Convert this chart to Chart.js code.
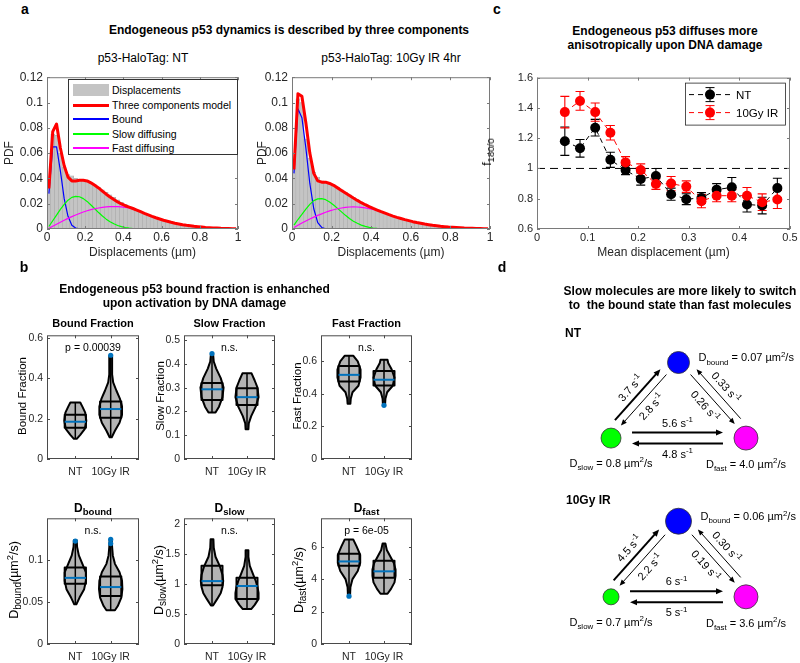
<!DOCTYPE html>
<html>
<head>
<meta charset="utf-8">
<title>Endogeneous p53 dynamics</title>
<script src="https://cdn.jsdelivr.net/npm/chart.js@4.4.1/dist/chart.umd.min.js"></script>
<style>
  body { margin: 0; background: #fff; }
  #fig { position: relative; width: 800px; height: 663px; overflow: hidden; font-family: "Liberation Sans", Arial, sans-serif; color: #000; }
  #fig canvas { position: absolute; }
  .t { position: absolute; white-space: nowrap; line-height: 1.25; }
  .t sub { font-size: 0.8em; vertical-align: -0.32em; line-height: 0; }
  .t sup { font-size: 0.75em; vertical-align: 0.5em; line-height: 0; }
</style>
</head>
<body>
<div id="fig"></div>
<script>
// ---- panel a: displacement histograms, bin centres (um) ----
const binCenters = [0.01,0.03,0.05,0.07,0.09,0.11,0.13,0.15,0.17,0.19,0.21,0.23,0.25,0.27,0.29,0.31,0.33,0.35,0.37,0.39,
  0.41,0.43,0.45,0.47,0.49,0.51,0.53,0.55,0.57,0.59,0.61,0.63,0.65,0.67,0.69,0.71,0.73,0.75,0.77,0.79,
  0.81,0.83,0.85,0.87,0.89,0.91,0.93,0.95,0.97,0.99];

// NT
const ntHist = [0.037,0.075,0.074,0.060,0.049,0.043,0.042,0.040,0.039,0.038,0.038,0.036,0.035,0.033,0.031,0.029,0.027,0.025,0.023,0.021,
  0.0195,0.018,0.0165,0.015,0.0135,0.012,0.011,0.0098,0.0088,0.0078,0.0068,0.006,0.0052,0.0045,0.0039,0.0033,0.0028,0.0024,0.002,0.0017,
  0.0014,0.0012,0.001,0.0008,0.0007,0.0005,0.0004,0.0003,0.0002,0.0002];
const ntModel = [0.032,0.077,0.083,0.064,0.050,0.041,0.038,0.038,0.0385,0.0385,0.038,0.0365,0.0345,0.0325,0.030,0.0275,0.0253,0.0233,0.0214,0.0198,
  0.0184,0.0173,0.0162,0.015,0.0137,0.0124,0.0112,0.010,0.0089,0.0079,0.0069,0.0061,0.0053,0.0046,0.004,0.0034,0.0029,0.0025,0.0021,0.0018,
  0.0015,0.0012,0.001,0.0008,0.0007,0.0005,0.0004,0.0003,0.0002,0.0002];
const ntBound = [0.028,0.065,0.065,0.046,0.024,0.010,0.003,0.0008,0.0002,0,0,0,0,0,0,0,0,0,0,0,
  0,0,0,0,0,0,0,0,0,0,0,0,0,0,0,0,0,0,0,0,0,0,0,0,0,0,0,0,0,0];
const ntSlow = [0.002,0.0065,0.011,0.0155,0.0195,0.0228,0.025,0.0258,0.0255,0.024,0.0218,0.019,0.016,0.013,0.0103,0.0078,0.0058,0.0041,0.0028,0.0019,
  0.0012,0.0007,0.0004,0.0002,0.0001,0,0,0,0,0,0,0,0,0,0,0,0,0,0,0,0,0,0,0,0,0,0,0,0,0];
const ntFast = [0.0006,0.0022,0.0038,0.0054,0.0069,0.0084,0.0098,0.0111,0.0123,0.0134,0.0144,0.0153,0.016,0.0166,0.0171,0.0175,0.0177,0.0178,0.0177,0.0175,
  0.0171,0.0166,0.0158,0.0148,0.0136,0.0124,0.0112,0.010,0.0089,0.0079,0.0069,0.0061,0.0053,0.0046,0.004,0.0034,0.0029,0.0025,0.0021,0.0018,
  0.0015,0.0012,0.001,0.0008,0.0007,0.0005,0.0004,0.0003,0.0002,0.0002];

// 10Gy IR 4hr
const irHist = [0.054,0.103,0.100,0.071,0.056,0.045,0.041,0.038,0.037,0.036,0.035,0.033,0.031,0.029,0.027,0.025,0.023,0.021,0.0195,0.018,
  0.0165,0.015,0.0137,0.0125,0.0113,0.0102,0.0092,0.0083,0.0074,0.0066,0.0058,0.0051,0.0045,0.0039,0.0034,0.0029,0.0025,0.0021,0.0018,0.0015,
  0.0013,0.0011,0.0009,0.0007,0.0006,0.0005,0.0004,0.0003,0.0002,0.0002];
const irModel = [0.047,0.107,0.105,0.084,0.060,0.044,0.038,0.037,0.037,0.036,0.0345,0.0325,0.0305,0.0285,0.0265,0.0245,0.0226,0.0208,0.0192,0.0177,
  0.0163,0.015,0.0137,0.0125,0.0113,0.0102,0.0092,0.0083,0.0074,0.0066,0.0058,0.0051,0.0045,0.0039,0.0034,0.0029,0.0025,0.0021,0.0018,0.0015,
  0.0013,0.0011,0.0009,0.0007,0.0006,0.0005,0.0004,0.0003,0.0002,0.0002];
const irBound = [0.044,0.095,0.088,0.064,0.036,0.016,0.005,0.0012,0.0002,0,0,0,0,0,0,0,0,0,0,0,
  0,0,0,0,0,0,0,0,0,0,0,0,0,0,0,0,0,0,0,0,0,0,0,0,0,0,0,0,0,0];
const irSlow = [0.003,0.0075,0.0115,0.0157,0.0195,0.0224,0.0238,0.024,0.0232,0.0214,0.019,0.0163,0.0135,0.0108,0.0083,0.0062,0.0045,0.0031,0.0021,0.0013,
  0.0008,0.0005,0.0003,0.0001,0,0,0,0,0,0,0,0,0,0,0,0,0,0,0,0,0,0,0,0,0,0,0,0,0,0];
const irFast = [0.0012,0.003,0.0047,0.0063,0.0079,0.0094,0.0108,0.012,0.0132,0.0143,0.0152,0.016,0.0166,0.0171,0.0174,0.0175,0.0174,0.0171,0.0167,0.0161,
  0.0155,0.0146,0.0135,0.0124,0.0113,0.0102,0.0092,0.0083,0.0074,0.0066,0.0058,0.0051,0.0045,0.0039,0.0034,0.0029,0.0025,0.0021,0.0018,0.0015,
  0.0013,0.0011,0.0009,0.0007,0.0006,0.0005,0.0004,0.0003,0.0002,0.0002];

const legendA = ['Displacements', 'Three components model', 'Bound', 'Slow diffusing', 'Fast diffusing'];
const pdfTicks = [0, 0.02, 0.04, 0.06, 0.08, 0.1, 0.12];
const dispTicks = [0, 0.2, 0.4, 0.6, 0.8, 1];

// ---- panel c: f180/0 vs mean displacement ----
const meanDisp = [0.055,0.085,0.115,0.145,0.175,0.205,0.235,0.265,0.295,0.325,0.355,0.385,0.415,0.445,0.475];
const fNT  = [1.18,1.133,1.269,1.057,0.989,0.93,0.95,0.83,0.797,0.805,0.86,0.875,0.762,0.755,0.87];
const errNT = [0.094,0.058,0.055,0.05,0.03,0.04,0.05,0.04,0.036,0.035,0.04,0.065,0.05,0.055,0.065];
const fIR  = [1.372,1.446,1.372,1.236,1.04,0.99,0.897,0.90,0.88,0.784,0.82,0.82,0.82,0.777,0.795];
const errIR = [0.104,0.062,0.06,0.048,0.038,0.04,0.035,0.047,0.038,0.044,0.04,0.04,0.054,0.055,0.06];
const seriesC = ['NT', '10Gy IR'];
const fTicks = [0.6, 0.8, 1, 1.2, 1.4, 1.6];
const mdTicks = [0, 0.1, 0.2, 0.3, 0.4, 0.5];

// ---- panel b: violins (outline y levels + half widths, quartile box, median, outliers) ----
const groups = ['NT', '10Gy IR'];
const boundFrac = {
  yNT: [0.10,0.12,0.15,0.19,0.23,0.26,0.28], wNT: [0.04,0.14,0.27,0.31,0.28,0.2,0.14],
  yIR: [0.108,0.14,0.18,0.22,0.26,0.30,0.34,0.38,0.42,0.51], wIR: [0.03,0.12,0.25,0.32,0.32,0.26,0.16,0.07,0.04,0.04],
  box: [[0.155,0.22],[0.205,0.285]], med: [0.185,0.248], out: [[],[0.515]]
};
const slowFrac = {
  yNT: [0.195,0.22,0.26,0.30,0.34,0.38,0.41,0.443], wNT: [0.1,0.2,0.3,0.33,0.25,0.12,0.05,0.03],
  yIR: [0.125,0.15,0.18,0.22,0.26,0.30,0.33,0.36], wIR: [0.04,0.05,0.12,0.25,0.33,0.3,0.22,0.13],
  box: [[0.248,0.32],[0.227,0.297]], med: [0.293,0.26], out: [[0.443],[]]
};
const fastFrac = {
  yNT: [0.34,0.37,0.41,0.45,0.50,0.55,0.60,0.635], wNT: [0.04,0.05,0.10,0.27,0.33,0.33,0.25,0.12],
  yIR: [0.33,0.37,0.41,0.45,0.50,0.55,0.59,0.61], wIR: [0.03,0.04,0.09,0.25,0.3,0.22,0.12,0.1],
  box: [[0.476,0.571],[0.452,0.541]], med: [0.517,0.487], out: [[],[0.33]]
};
const dBound = {
  yNT: [0.047,0.055,0.065,0.075,0.085,0.095,0.105,0.115,0.123], wNT: [0.03,0.12,0.25,0.3,0.3,0.2,0.1,0.05,0.04],
  yIR: [0.04,0.045,0.055,0.065,0.075,0.085,0.095,0.105,0.115,0.124], wIR: [0.12,0.2,0.3,0.33,0.32,0.25,0.12,0.06,0.04,0.03],
  box: [[0.0714,0.0908],[0.057,0.080]], med: [0.0784,0.0675], out: [[0.122],[0.119,0.124]]
};
const dSlow = {
  yNT: [0.64,0.75,0.85,0.95,1.05,1.15,1.3,1.45,1.6,1.74], wNT: [0.03,0.15,0.25,0.3,0.32,0.3,0.22,0.1,0.05,0.04],
  yIR: [0.58,0.65,0.75,0.85,0.95,1.05,1.15,1.3,1.45,1.56], wIR: [0.12,0.22,0.33,0.33,0.3,0.25,0.18,0.08,0.04,0.04],
  box: [[0.975,1.30],[0.747,1.10]], med: [1.046,0.964], out: [[],[]]
};
const dFast = {
  yNT: [3.0,3.5,4.0,4.5,5.0,5.5,6.0,6.45], wNT: [0.03,0.04,0.1,0.25,0.32,0.32,0.22,0.12],
  yIR: [3.1,3.4,3.8,4.2,4.6,5.0,5.4,5.8,6.2], wIR: [0.1,0.2,0.3,0.33,0.33,0.28,0.18,0.08,0.04],
  box: [[4.83,5.56],[4.08,5.13]], med: [5.09,4.48], out: [[2.95],[]]
};
const pNotes = ['p = 0.00039', 'n.s.', 'n.s.', 'n.s.', 'n.s.', 'p = 6e-05'];

// ---- panel d: three state scheme ----
const states = ['bound', 'slow', 'fast'];
const conditions = ['NT', '10Gy IR'];
const diffNT = ['0.07', '0.8', '4.0'];
const diffIR = ['0.06', '0.7', '3.6'];
// slow->bound, bound->slow, bound->fast, fast->bound, slow->fast, fast->slow
const ratesNT = ['3.7', '2.8', '0.26', '0.33', '5.6', '4.8'];
const ratesIR = ['4.5', '2.2', '0.19', '0.30', '6', '5'];

// ---------------------------------------------------------------
const FONT = '"Liberation Sans", Arial, sans-serif';
Chart.defaults.font.family = FONT;
Chart.defaults.color = '#262626';
const fig = document.getElementById('fig');

const fmt = v => String(parseFloat((+v).toFixed(4)));
const xy = (xs, ys) => xs.map((x, i) => ({x: x, y: ys[i]}));

function makeCanvas(cv) {
  const c = document.createElement('canvas');
  c.width = cv.r - cv.l;
  c.height = cv.b - cv.t;
  c.style.left = cv.l + 'px';
  c.style.top = cv.t + 'px';
  fig.appendChild(c);
  return c;
}

// plot box inside a canvas box
function geom(plot, cv) {
  return {
    pad: {left: 0, top: plot.t - cv.t, right: cv.r - plot.r, bottom: 0},
    yw: plot.l - cv.l,
    xh: cv.b - plot.b
  };
}

function axis(o, dir, g) {
  const s = {
    type: 'linear', min: o.min, max: o.max, offset: false,
    grid: {display: false, drawTicks: false},
    border: {display: false},
    ticks: {
      font: {size: o.size}, padding: o.pad, maxRotation: 0, autoSkip: false,
      callback: o.labels ? (v => o.labels[Math.round(v) - 1]) : fmt
    },
    afterBuildTicks: sc => { sc.ticks = o.ticks.map(v => ({value: v})); },
    afterFit: sc => { if (dir === 'x') sc.height = g.xh; else sc.width = g.yw; }
  };
  if (o.title) {
    s.title = {
      display: true, text: o.title, font: {size: o.titleSize || 12}, color: '#262626',
      padding: dir === 'x' ? {top: 0, bottom: o.titlePad} : {top: o.titlePad, bottom: 0}
    };
  }
  return s;
}

function baseOptions(g, scales, extra) {
  return {
    responsive: false, animation: false, devicePixelRatio: 1,
    layout: {padding: g.pad},
    scales: scales,
    plugins: Object.assign({legend: {display: false}, tooltip: {enabled: false}}, extra)
  };
}

// matlab style box with inward ticks
const boxPlugin = {
  id: 'matBox',
  afterDatasetsDraw(chart, args, opts) {
    const {ctx, chartArea: a, scales} = chart;
    const len = 3;
    ctx.save();
    ctx.strokeStyle = opts.color || '#777';
    ctx.lineWidth = 1;
    ctx.strokeRect(a.left + 0.5, a.top + 0.5, a.right - a.left - 1, a.bottom - a.top - 1);
    ctx.beginPath();
    scales.x.ticks.forEach(t => {
      const px = Math.round(scales.x.getPixelForValue(t.value)) + 0.5;
      ctx.moveTo(px, a.bottom); ctx.lineTo(px, a.bottom - len);
      ctx.moveTo(px, a.top); ctx.lineTo(px, a.top + len);
    });
    scales.y.ticks.forEach(t => {
      const py = Math.round(scales.y.getPixelForValue(t.value)) + 0.5;
      ctx.moveTo(a.left, py); ctx.lineTo(a.left + len, py);
      ctx.moveTo(a.right, py); ctx.lineTo(a.right - len, py);
    });
    ctx.stroke();
    ctx.restore();
  }
};

// text with sub/superscript parts on a canvas
function richText(ctx, parts, x, y, o) {
  o = o || {};
  const size = o.size || 11;
  ctx.save();
  ctx.translate(x, y);
  ctx.rotate(o.rot || 0);
  const fontFor = p => (o.bold ? 'bold ' : '') + ((p.sub || p.sup) ? size * 0.72 : size) + 'px ' + FONT;
  let w = 0;
  parts.forEach(p => { ctx.font = fontFor(p); w += ctx.measureText(p.t).width; });
  let cx = o.align === 'left' ? 0 : -w / 2;
  ctx.textAlign = 'left';
  ctx.textBaseline = 'alphabetic';
  ctx.fillStyle = o.color || '#000';
  parts.forEach(p => {
    ctx.font = fontFor(p);
    const dy = p.sub ? size * 0.28 : p.sup ? -size * 0.42 : 0;
    ctx.fillText(p.t, cx, size * 0.36 + dy);
    cx += ctx.measureText(p.t).width;
  });
  ctx.restore();
}

// ================= panel a =================
function curve(vals, color, width, order) {
  return {type: 'line', data: xy(binCenters, vals), borderColor: color, borderWidth: width,
    pointRadius: 0, order: order, borderJoinStyle: 'round'};
}

function histChart(cv, plot, hist, model, bound, slow, fast, pdfX) {
  const g = geom(plot, cv);
  new Chart(makeCanvas(cv), {
    type: 'bar',
    data: {
      datasets: [
        curve(model, '#ff0000', 3, 0),
        curve(fast, '#ff00ff', 1.2, 1),
        curve(slow, '#00ff00', 1.2, 2),
        curve(bound, '#0000ff', 1.2, 3),
        {type: 'bar', data: xy(binCenters, hist), backgroundColor: '#c4c4c4', borderColor: '#a6a6a6',
          borderWidth: 0.5, barPercentage: 1, categoryPercentage: 1, order: 10}
      ]
    },
    options: baseOptions(g, {
      x: axis({min: 0, max: 1, ticks: dispTicks, size: 12, pad: 1,
        title: 'Displacements (µm)', titlePad: cv.b - 253 - 7.2}, 'x', g),
      y: axis({min: 0, max: 0.12, ticks: pdfTicks, size: 12, pad: 4,
        title: 'PDF', titlePad: pdfX - cv.l - 7.2}, 'y', g)
    }, {matBox: {color: '#7a7a7a'}}),
    plugins: [boxPlugin]
  });
}

histChart({l: 0, t: 66, r: 248, b: 262}, {l: 47, t: 74, r: 238, b: 229},
  ntHist, ntModel, ntBound, ntSlow, ntFast, 10);
histChart({l: 255, t: 66, r: 500, b: 262}, {l: 292, t: 74, r: 490, b: 229},
  irHist, irModel, irBound, irSlow, irFast, 263);

// ================= panel c =================
const errorBarPlugin = {
  id: 'errBars',
  beforeDatasetsDraw(chart) {
    const {ctx, scales: {x, y}} = chart;
    ctx.save();
    chart.data.datasets.forEach(ds => {
      if (!ds.err) return;
      ctx.strokeStyle = ds.borderColor;
      ctx.lineWidth = 1.1;
      ds.data.forEach((p, i) => {
        const px = x.getPixelForValue(p.x);
        const lo = y.getPixelForValue(p.y - ds.err[i]);
        const hi = y.getPixelForValue(p.y + ds.err[i]);
        ctx.beginPath();
        ctx.moveTo(px, lo); ctx.lineTo(px, hi);
        ctx.moveTo(px - 4.5, lo); ctx.lineTo(px + 4.5, lo);
        ctx.moveTo(px - 4.5, hi); ctx.lineTo(px + 4.5, hi);
        ctx.stroke();
      });
    });
    ctx.restore();
  },
  afterDatasetsDraw(chart) {
    // legend, north east
    const {ctx, chartArea: a} = chart;
    const w = 100, h = 42;
    const lx = a.right - w - 5, ly = a.top + 5;
    ctx.save();
    ctx.fillStyle = '#fff';
    ctx.fillRect(lx, ly, w, h);
    ctx.strokeStyle = '#262626';
    ctx.lineWidth = 0.8;
    ctx.strokeRect(lx + 0.5, ly + 0.5, w, h);
    chart.data.datasets.filter(ds => ds.err).forEach((ds, i) => {
      const yy = ly + 12 + i * 18;
      const mx = lx + 25;
      ctx.strokeStyle = ds.borderColor;
      ctx.fillStyle = ds.borderColor;
      ctx.lineWidth = 1;
      ctx.setLineDash([5, 4]);
      ctx.beginPath(); ctx.moveTo(lx + 4, yy); ctx.lineTo(lx + 46, yy); ctx.stroke();
      ctx.setLineDash([]);
      ctx.beginPath();
      ctx.moveTo(mx, yy - 7); ctx.lineTo(mx, yy + 7);
      ctx.moveTo(mx - 4.5, yy - 7); ctx.lineTo(mx + 4.5, yy - 7);
      ctx.moveTo(mx - 4.5, yy + 7); ctx.lineTo(mx + 4.5, yy + 7);
      ctx.stroke();
      ctx.beginPath(); ctx.arc(mx, yy, 5, 0, Math.PI * 2); ctx.fill();
      ctx.fillStyle = '#000';
      ctx.font = '11.5px ' + FONT;
      ctx.textBaseline = 'middle';
      ctx.fillText(ds.label, lx + 51, yy + 1);
    });
    ctx.restore();
  }
};

(function () {
  const cv = {l: 500, t: 67, r: 800, b: 262};
  const plot = {l: 537, t: 75, r: 790, b: 229};
  const g = geom(plot, cv);
  const series = (label, ys, errs, color, order) => ({
    type: 'line', label: label, data: xy(meanDisp, ys), err: errs,
    borderColor: color, borderWidth: 1, borderDash: [5, 4],
    pointRadius: 5, pointBackgroundColor: color, pointBorderColor: color, pointBorderWidth: 0, order: order
  });
  new Chart(makeCanvas(cv), {
    type: 'line',
    data: {
      datasets: [
        {type: 'line', data: [{x: 0, y: 1}, {x: 0.5, y: 1}], borderColor: '#000', borderWidth: 1,
          borderDash: [8, 5], pointRadius: 0, order: 5},
        series(seriesC[0], fNT, errNT, '#000000', 1),
        series(seriesC[1], fIR, errIR, '#ff0000', 0)
      ]
    },
    options: baseOptions(g, {
      x: axis({min: 0, max: 0.5, ticks: mdTicks, size: 11, pad: 2,
        title: 'Mean displacement (µm)', titlePad: cv.b - 253 - 7.2}, 'x', g),
      y: axis({min: 0.6, max: 1.6, ticks: fTicks, size: 11, pad: 4}, 'y', g)
    }, {matBox: {color: '#7a7a7a'}}),
    plugins: [errorBarPlugin, boxPlugin]
  });
})();

// ================= panel b =================
const violinPlugin = {
  id: 'violin',
  beforeDatasetsDraw(chart, args, o) {
    const {ctx, scales: {x, y}} = chart;
    const m = o.metric;
    ctx.save();
    [[m.yNT, m.wNT], [m.yIR, m.wIR]].forEach(([ys, ws], gi) => {
      const c = gi + 1;
      ctx.beginPath();
      ys.forEach((v, i) => {
        const px = x.getPixelForValue(c - ws[i]), py = y.getPixelForValue(v);
        if (i) ctx.lineTo(px, py); else ctx.moveTo(px, py);
      });
      for (let i = ys.length - 1; i >= 0; i--) ctx.lineTo(x.getPixelForValue(c + ws[i]), y.getPixelForValue(ys[i]));
      ctx.closePath();
      ctx.fillStyle = '#b4b4b4';
      ctx.fill();
      ctx.strokeStyle = '#000';
      ctx.lineWidth = 2;
      ctx.lineJoin = 'round';
      ctx.stroke();
      // whisker
      const cx = x.getPixelForValue(c);
      ctx.lineWidth = 1.5;
      ctx.beginPath();
      ctx.moveTo(cx, y.getPixelForValue(ys[0]));
      ctx.lineTo(cx, y.getPixelForValue(ys[ys.length - 1]));
      ctx.stroke();
      // quartile box
      const [q1, q3] = m.box[gi];
      const bl = x.getPixelForValue(c - 0.3), br = x.getPixelForValue(c + 0.3);
      ctx.lineWidth = 2;
      ctx.strokeRect(bl, y.getPixelForValue(q3), br - bl, y.getPixelForValue(q1) - y.getPixelForValue(q3));
      // median
      ctx.strokeStyle = '#0072BD';
      ctx.lineWidth = 2;
      ctx.beginPath();
      ctx.moveTo(bl, y.getPixelForValue(m.med[gi]));
      ctx.lineTo(br, y.getPixelForValue(m.med[gi]));
      ctx.stroke();
    });
    ctx.restore();
  },
  afterDraw(chart, args, o) {
    const {ctx, chartArea: a, scales: {x}} = chart;
    ctx.save();
    ctx.fillStyle = '#000';
    ctx.font = '10.5px ' + FONT;
    ctx.textAlign = 'center';
    ctx.textBaseline = 'middle';
    ctx.fillText(o.note, x.getPixelForValue(1.5), a.top + 13);
    ctx.restore();
  }
};

function violinChart(plot, metric, yMax, yTicks, note) {
  const cv = {l: plot.l - 28, t: plot.t - 8, r: plot.r + 6, b: plot.b + 23};
  const g = geom(plot, cv);
  const outliers = [];
  metric.out.forEach((arr, gi) => arr.forEach(v => outliers.push({x: gi + 1, y: v})));
  new Chart(makeCanvas(cv), {
    type: 'scatter',
    data: {datasets: [{data: outliers, pointRadius: 2.6, pointBackgroundColor: '#0072BD',
      pointBorderColor: '#0072BD', pointBorderWidth: 0}]},
    options: baseOptions(g, {
      x: axis({min: 0.2, max: 2.8, ticks: [1, 2], labels: groups, size: 10.5, pad: 7}, 'x', g),
      y: axis({min: 0, max: yMax, ticks: yTicks, size: 10.5, pad: 4}, 'y', g)
    }, {violin: {metric: metric, note: note}, matBox: {color: '#4a4a4a'}}),
    plugins: [violinPlugin, boxPlugin]
  });
}

violinChart({l: 47, t: 333, r: 139, b: 459}, boundFrac, 0.614, [0, 0.2, 0.4, 0.6], pNotes[0]);
violinChart({l: 184, t: 333, r: 275, b: 459}, slowFrac, 0.52, [0, 0.1, 0.2, 0.3, 0.4, 0.5], pNotes[1]);
violinChart({l: 321, t: 333, r: 412, b: 459}, fastFrac, 0.76, [0, 0.2, 0.4, 0.6], pNotes[2]);
violinChart({l: 47, t: 516, r: 139, b: 644}, dBound, 0.149, [0, 0.05, 0.1], pNotes[3]);
violinChart({l: 184, t: 516, r: 275, b: 644}, dSlow, 2.09, [0, 0.5, 1, 1.5, 2], pNotes[4]);
violinChart({l: 321, t: 516, r: 412, b: 644}, dFast, 7.75, [0, 2, 4, 6], pNotes[5]);

// ================= panel d =================
// triangle layout in scheme units: bound on top, slow bottom left, fast bottom right
const stateX = [1, 0, 2];
const stateY = [1, 0, 0];
const condBase = [0, -2.1];
const nodeR = [11, 10, 12, 13, 8, 12];
const nodeColor = ['#0000ff', '#00ff00', '#ff00ff'];
// arrows: offset from centre line (+ = away from triangle), line width, label side, end gap
const edges = [
  {from: 1, to: 0, off: 9, w: 2, side: 1, gap: 6},
  {from: 0, to: 1, off: 1, w: 1, side: -1, gap: 6},
  {from: 0, to: 2, off: 1, w: 1, side: -1, gap: 6},
  {from: 2, to: 0, off: 9, w: 1, side: 1, gap: 6},
  {from: 1, to: 2, off: -5.5, w: 2, side: -1, gap: 11},
  {from: 2, to: 1, off: 5.5, w: 2, side: 1, gap: 11}
];

const schemePlugin = {
  id: 'scheme',
  beforeDatasetsDraw(chart) {
    const {ctx, scales: {x, y}} = chart;
    ctx.save();
    conditions.forEach((cond, ci) => {
      const rates = ci === 0 ? ratesNT : ratesIR;
      const diffs = ci === 0 ? diffNT : diffIR;
      const P = states.map((s, si) => ({
        x: x.getPixelForValue(stateX[si]),
        y: y.getPixelForValue(stateY[si] + condBase[ci]),
        r: nodeR[ci * 3 + si]
      }));
      const C = {x: (P[0].x + P[1].x + P[2].x) / 3, y: (P[0].y + P[1].y + P[2].y) / 3};
      edges.forEach((e, ei) => {
        const A = P[e.from], B = P[e.to];
        const L = Math.hypot(B.x - A.x, B.y - A.y);
        const ux = (B.x - A.x) / L, uy = (B.y - A.y) / L;
        let nx = -uy, ny = ux;
        if (((A.x + B.x) / 2 - C.x) * nx + ((A.y + B.y) / 2 - C.y) * ny < 0) { nx = -nx; ny = -ny; }
        const sx = A.x + ux * (A.r + e.gap) + nx * e.off, sy = A.y + uy * (A.r + e.gap) + ny * e.off;
        const ex = B.x - ux * (B.r + e.gap) + nx * e.off, ey = B.y - uy * (B.r + e.gap) + ny * e.off;
        const head = e.w > 1 ? 7 : 6, hw = e.w > 1 ? 3 : 2.5;
        ctx.strokeStyle = '#000';
        ctx.fillStyle = '#000';
        ctx.lineWidth = e.w;
        ctx.beginPath();
        ctx.moveTo(sx, sy);
        ctx.lineTo(ex - ux * head * 0.8, ey - uy * head * 0.8);
        ctx.stroke();
        ctx.beginPath();
        ctx.moveTo(ex, ey);
        ctx.lineTo(ex - ux * head + nx * hw, ey - uy * head + ny * hw);
        ctx.lineTo(ex - ux * head - nx * hw, ey - uy * head - ny * hw);
        ctx.closePath();
        ctx.fill();
        // rate label
        let ang = Math.atan2(uy, ux);
        if (ang > Math.PI / 2) ang -= Math.PI;
        if (ang < -Math.PI / 2) ang += Math.PI;
        const d = e.side * 10;
        richText(ctx, [{t: rates[ei] + ' s'}, {t: '-1', sup: true}],
          (sx + ex) / 2 + nx * d, (sy + ey) / 2 + ny * d, {size: 11, rot: ang});
      });
      // diffusion coefficients
      const dPart = si => [{t: 'D'}, {t: states[si], sub: true}, {t: ' = ' + diffs[si] + ' µm'}, {t: '2', sup: true}, {t: '/s'}];
      richText(ctx, dPart(0), P[0].x + P[0].r + 9, P[0].y - 5, {size: 11, align: 'left'});
      richText(ctx, dPart(1), P[1].x, P[1].y + 25, {size: 11});
      richText(ctx, dPart(2), P[2].x, P[2].y + 26, {size: 11});
    });
    ctx.restore();
  }
};

(function () {
  const nodes = [], radii = [], colors = [];
  conditions.forEach((c, ci) => states.forEach((s, si) => {
    nodes.push({x: stateX[si], y: stateY[si] + condBase[ci]});
    radii.push(nodeR[ci * 3 + si]);
    colors.push(nodeColor[si]);
  }));
  const cv = {l: 540, t: 310, r: 800, b: 663};
  new Chart(makeCanvas(cv), {
    type: 'scatter',
    data: {datasets: [{data: nodes, pointRadius: radii, pointBackgroundColor: colors,
      pointBorderColor: '#333', pointBorderWidth: 0.8}]},
    options: {
      responsive: false, animation: false, devicePixelRatio: 1,
      layout: {padding: 0},
      scales: {
        x: {type: 'linear', display: false, min: -0.848, max: 2.596},
        y: {type: 'linear', display: false, min: -2.793, max: 1.512}
      },
      plugins: {legend: {display: false}, tooltip: {enabled: false}}
    },
    plugins: [schemePlugin]
  });
})();

// ================= text =================
function addText(html, x, y, o) {
  o = o || {};
  const d = document.createElement('div');
  d.className = 't';
  d.innerHTML = html;
  d.style.left = x + 'px';
  d.style.top = y + 'px';
  d.style.font = o.font || ('12px ' + FONT);
  if (o.center) d.style.textAlign = 'center';
  const anchor = o.align === 'left' ? 'translate(0,-50%)' : 'translate(-50%,-50%)';
  d.style.transform = anchor + (o.rot ? ' rotate(' + o.rot + 'deg)' : '');
  if (o.color) d.style.color = o.color;
  fig.appendChild(d);
  return d;
}
const B12 = 'bold 12px ' + FONT, B11 = 'bold 11px ' + FONT, L = 'bold 14px ' + FONT;

// panel letters
addText('a', 25, 9, {font: L});
addText('b', 24, 267, {font: L});
addText('c', 497, 9, {font: L});
addText('d', 502, 267, {font: L});

// panel a
addText('Endogeneous p53 dynamics is described by three components', 289, 30, {font: B12});
addText('p53-HaloTag: NT', 143, 58);
addText('p53-HaloTag: 10Gy IR 4hr', 391, 58);
(function () {
  const box = document.createElement('div');
  box.style.cssText = 'position:absolute;left:68px;top:79px;width:170px;height:76px;border:1px solid #333;background:#fff;box-sizing:border-box;font:10.5px ' + FONT;
  const rowY = [10, 25, 39, 54, 68];
  const sw = [
    {c: '#c4c4c4', h: 12},
    {c: '#ff0000', h: 3},
    {c: '#0000ff', h: 1.5},
    {c: '#00ff00', h: 1.5},
    {c: '#ff00ff', h: 1.5}
  ];
  legendA.forEach((txt, i) => {
    const s = document.createElement('div');
    s.style.cssText = 'position:absolute;left:4px;width:36px;';
    s.style.background = sw[i].c;
    s.style.height = sw[i].h + 'px';
    s.style.top = Math.round(rowY[i] - sw[i].h / 2) + 'px';
    box.appendChild(s);
    const t = document.createElement('div');
    t.textContent = txt;
    t.style.cssText = 'position:absolute;left:43px;white-space:nowrap;transform:translateY(-50%)';
    t.style.top = rowY[i] + 'px';
    box.appendChild(t);
  });
  fig.appendChild(box);
})();

// panel c
addText('Endogeneous p53 diffuses more<br>anisotropically upon DNA damage', 665, 37.5, {font: B12, center: true});
addText('f<sub>180/0</sub>', 487, 152, {font: '12px ' + FONT, rot: -90});

// panel b
addText('Endogeneous p53 bound fraction is enhanched<br>upon activation by DNA damage', 194.5, 295.5, {font: B12, center: true});
addText('Bound Fraction', 93, 323, {font: B11});
addText('Slow Fraction', 229.5, 323, {font: B11});
addText('Fast Fraction', 366.5, 323, {font: B11});
addText('D<sub>bound</sub>', 93, 508, {font: B12});
addText('D<sub>slow</sub>', 229.5, 508, {font: B12});
addText('D<sub>fast</sub>', 366.5, 508, {font: B12});
const yl = '11.5px ' + FONT, yd = '12.5px ' + FONT;
addText('Bound Fraction', 22, 396, {font: yl, rot: -90});
addText('Slow Fraction', 160, 396, {font: yl, rot: -90});
addText('Fast Fraction', 297, 396, {font: yl, rot: -90});
addText('D<sub>bound</sub>(µm<sup>2</sup>/s)', 14, 580, {font: yd, rot: -90});
addText('D<sub>slow</sub>(µm<sup>2</sup>/s)', 159, 580, {font: yd, rot: -90});
addText('D<sub>fast</sub>(µm<sup>2</sup>/s)', 299, 580, {font: yd, rot: -90});

// panel d
addText('Slow molecules are more likely to switch<br>to&nbsp; the bound state than fast molecules', 680, 298, {font: B12, center: true});
addText(conditions[0], 565, 333, {font: B12, align: 'left'});
addText(conditions[1], 566, 500, {font: B12, align: 'left'});
</script>
</body>
</html>
